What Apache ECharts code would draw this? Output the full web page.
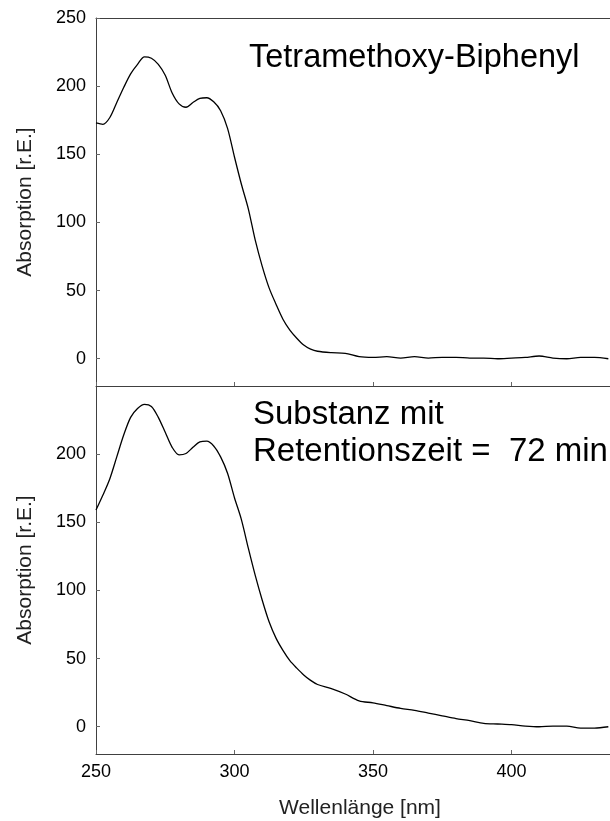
<!DOCTYPE html>
<html>
<head>
<meta charset="utf-8">
<script src="https://cdn.jsdelivr.net/npm/echarts@6/dist/echarts.min.js"></script>
<style>
  html, body { margin: 0; padding: 0; background: #fff; }
  #chart { width: 610px; height: 821px; }
</style>
</head>
<body>
<div id="chart"></div>
<script>
  // Wellenlänge [nm]
  const wavelengths = [
    250, 252.5, 255, 257.5, 260, 262.5, 265, 267.5, 270, 272.5, 275, 277.5, 280, 282.5, 285, 287.5,
    290, 292.5, 295, 297.5, 300, 302.5, 305, 307.5, 310, 312.5, 315, 317.5, 320, 322.5, 325, 327.5, 330,
    335, 340, 345, 350, 355, 360, 365, 370, 375, 380, 385, 390, 395, 400, 405, 410, 415, 420, 425, 430, 435
  ]
  // Tetramethoxy-Biphenyl
  const absTetramethoxy = [
    173, 172, 177, 188, 199, 209, 216, 221.5, 220.5, 216, 208, 195, 187, 184.5, 188, 191,
    191.5, 188.5, 182, 169, 148, 128, 110, 87, 68, 52, 40, 29, 21, 15, 10, 7, 5.5,
    4.5, 4, 1.5, 1, 1.5, 0.5, 1.5, 0.5, 1, 1, 0.5, 0.5, 0, 0.5, 1, 2, 0.5, 0, 1, 1, 0
  ]
  // Substanz mit Retentionszeit = 72 min
  const absSubstanz72 = [
    159, 170, 182, 198, 214, 227, 233.5, 236.5, 235, 227, 216, 205, 199.5, 200.5, 205, 209,
    209.5, 206, 198, 186, 168, 152, 131, 111, 93, 77, 65, 56, 48.5, 43, 38, 34, 31,
    28, 24, 19, 17.5, 15.5, 13.5, 12, 10, 8, 6, 4.5, 2.5, 2, 1.5, 0.5, 0, 0.5, 0.5, -1, -1, 0
  ]
  const yTicksTop = [0, 50, 100, 150, 200, 250]
  const yTicksBottom = [0, 50, 100, 150, 200]

  const font = 'Liberation Sans, Arial, sans-serif'
  const axisColor = '#404040'
  const tickColor = '#666'
  const xMin = 250
  const xMax = 435.6

  function pairs(vals) {
    return wavelengths.map((w, i) => [w, vals[i]])
  }

  function xAxisFor(gridIndex, showLabels) {
    return {
      type: 'value',
      gridIndex: gridIndex,
      min: xMin,
      max: xMax,
      interval: 50,
      axisLine: { show: true, onZero: false, lineStyle: { color: axisColor, width: 1 } },
      axisTick: { show: true, inside: true, length: 4, lineStyle: { color: tickColor } },
      splitLine: { show: false },
      axisLabel: {
        show: showLabels,
        showMaxLabel: false,
        margin: 9,
        color: '#000',
        fontFamily: font,
        fontSize: 18
      },
      name: showLabels ? 'Wellenlänge [nm]' : '',
      nameLocation: 'middle',
      nameGap: 44,
      nameTextStyle: { color: '#222', fontFamily: font, fontSize: 21, padding: [0, 0, 0, 14] }
    }
  }

  function yAxisFor(gridIndex, ticks) {
    return {
      type: 'value',
      gridIndex: gridIndex,
      min: -20,
      max: 250,
      axisLine: { show: true, onZero: false, lineStyle: { color: axisColor, width: 1 } },
      axisTick: { show: true, inside: true, length: 4, customValues: ticks, lineStyle: { color: tickColor } },
      splitLine: { show: false },
      axisLabel: {
        customValues: ticks,
        margin: 10,
        color: '#000',
        fontFamily: font,
        fontSize: 18
      },
      name: 'Absorption [r.E.]',
      nameLocation: 'middle',
      nameGap: 60,
      nameRotate: 90,
      nameTextStyle: { color: '#222', fontFamily: font, fontSize: 21 }
    }
  }

  // frame line along the top of the upper panel
  const topFrame = {
    type: 'value',
    gridIndex: 0,
    position: 'top',
    min: xMin,
    max: xMax,
    axisLine: { show: true, onZero: false, lineStyle: { color: axisColor, width: 1 } },
    axisTick: { show: false },
    axisLabel: { show: false },
    splitLine: { show: false }
  }

  const chart = echarts.init(document.getElementById('chart'))
  const options = {
    backgroundColor: '#fff',
    animation: false,
    grid: [
      { left: 96, right: 0, top: 18, height: 368 },
      { left: 96, right: 0, top: 386, height: 368 }
    ],
    xAxis: [xAxisFor(0, false), xAxisFor(1, true), topFrame],
    yAxis: [yAxisFor(0, yTicksTop), yAxisFor(1, yTicksBottom)],
    series: [
      {
        type: 'line',
        xAxisIndex: 0,
        yAxisIndex: 0,
        data: pairs(absTetramethoxy),
        smooth: 0.3,
        showSymbol: false,
        lineStyle: { color: '#000', width: 1.3 }
      },
      {
        type: 'line',
        xAxisIndex: 1,
        yAxisIndex: 1,
        data: pairs(absSubstanz72),
        smooth: 0.3,
        showSymbol: false,
        lineStyle: { color: '#000', width: 1.3 }
      }
    ],
    graphic: [
      {
        type: 'text', left: 249, top: 42,
        style: { text: 'Tetramethoxy-Biphenyl', font: '32.5px ' + font, fill: '#000' }
      },
      {
        type: 'text', left: 253, top: 396,
        style: { text: 'Substanz mit\nRetentionszeit =  72 min', font: '33px ' + font, lineHeight: 37, fill: '#000' }
      }
    ]
  }
  chart.setOption(options, true)
</script>
</body>
</html>
